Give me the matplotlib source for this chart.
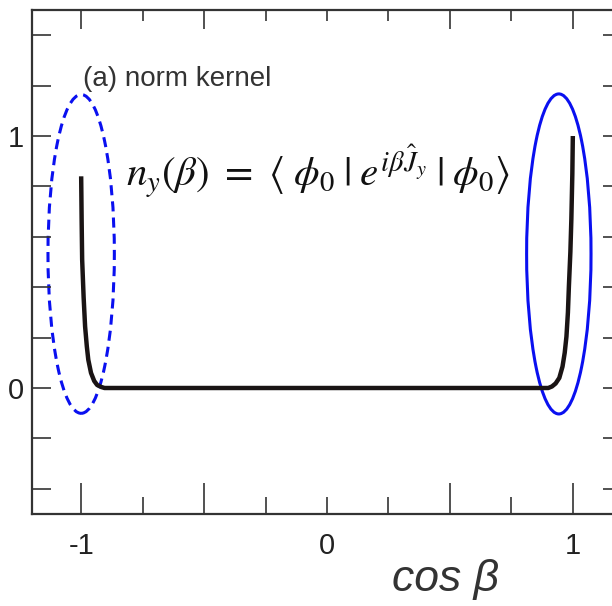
import matplotlib
matplotlib.use("Agg")
import matplotlib.pyplot as plt
from matplotlib.patches import Ellipse

# ---- data ----
cos_beta = [-1.0, -0.998, -0.996, -0.990, -0.984, -0.977, -0.971, -0.960, -0.947, -0.935, -0.918, -0.905,
            0.900, 0.915, 0.930, 0.945, 0.958, 0.967, 0.974, 0.980, 0.984, 0.990, 0.994, 0.998, 1.0]
n_y = [0.84, 0.66, 0.51, 0.36, 0.244, 0.165, 0.112, 0.060, 0.028, 0.012, 0.004, 0.0,
       0.0, 0.006, 0.018, 0.040, 0.085, 0.140, 0.204, 0.300, 0.404, 0.540, 0.670, 0.850, 1.0]

x_major = [-1.0, -0.5, 0.5, 1.0]
x_major_labels = ["-1", "", "", "1"]
x_minor = [-0.75, -0.25, 0.0, 0.25, 0.75]
x_minor_labels = ["", "", "0", "", ""]
y_ticks = [-0.4, -0.2, 0.0, 0.2, 0.4, 0.6, 0.8, 1.0, 1.2, 1.4]
y_labels = ["", "", "0", "", "", "", "", "1", "", ""]

formula = r"$n_y(\beta)\ =\ \langle\;\phi_0\;|\;e^{i\beta\hat{J}_y}\;|\;\phi_0\rangle$"
panel_label = "(a) norm kernel"
xlabel = "cos β"

# ---- figure ----
W, H = 612, 606
fig = plt.figure(figsize=(W / 100, H / 100), dpi=100)
plt.rcParams['mathtext.fontset'] = 'stix'

left_px, right_px, top_px, bot_px = 32, 622, 10, 514
ax = fig.add_axes([left_px / W, 1 - bot_px / H, (right_px - left_px) / W, (bot_px - top_px) / H])
ax.set_xlim(-1.2, 1.2)
ax.set_ylim(-0.5, 1.5)

spine_col = "#333333"
for s in ax.spines.values():
    s.set_color(spine_col)
    s.set_linewidth(1.6)

ax.plot(cos_beta, n_y, color="#1a1414", lw=3.2, solid_capstyle="butt", solid_joinstyle="round")

ax.set_xticks(x_major, x_major_labels)
ax.set_xticks(x_minor, x_minor_labels, minor=True)
ax.set_yticks(y_ticks, y_labels)

ax.tick_params(axis="x", which="major", direction="in", length=22, width=1.2, color=spine_col,
               labelsize=21, pad=13, labelcolor="#222222", top=False)
ax.tick_params(axis="x", which="minor", direction="in", length=12, width=1.2, color=spine_col,
               labelsize=21, pad=13, labelcolor="#222222", top=False)
ax.tick_params(axis="y", which="major", direction="in", length=14, width=1.2, color=spine_col,
               labelsize=21, pad=6, labelcolor="#222222", right=True)
for t in ax.get_xticklabels(which="both") + ax.get_yticklabels():
    t.set_family("Liberation Sans")

# top ticks with their own lengths
ax2 = ax.twiny()
ax2.set_xlim(ax.get_xlim())
ax2.set_xticks(x_major, [""] * len(x_major))
ax2.set_xticks(x_minor, [""] * len(x_minor), minor=True)
ax2.tick_params(axis="x", which="major", direction="in", length=14, width=1.2, color=spine_col)
ax2.tick_params(axis="x", which="minor", direction="in", length=8, width=1.2, color=spine_col)
for s in ax2.spines.values():
    s.set_visible(False)

# ellipses
ax.add_patch(Ellipse((-1.0, 0.532), 0.27, 1.265, fill=False, edgecolor="#0a10f0", lw=2.2,
                     linestyle=(0, (3.3, 2.0))))
ax.add_patch(Ellipse((0.943, 0.532), 0.262, 1.27, fill=False, edgecolor="#0a10f0", lw=2.2))

ax.text(-0.992, 1.226, panel_label, fontsize=20, color="#333333", family="Liberation Sans",
        ha="left", va="center")
ax.text(-0.816, 0.86, formula, fontsize=29.5, color="#111111", ha="left", va="center")

fig.text(446 / W, 1 - 580 / H, xlabel, fontsize=32, style="italic", color="#333333",
         family="Liberation Sans", ha="center", va="center")

fig.savefig("out.png", dpi=100)
